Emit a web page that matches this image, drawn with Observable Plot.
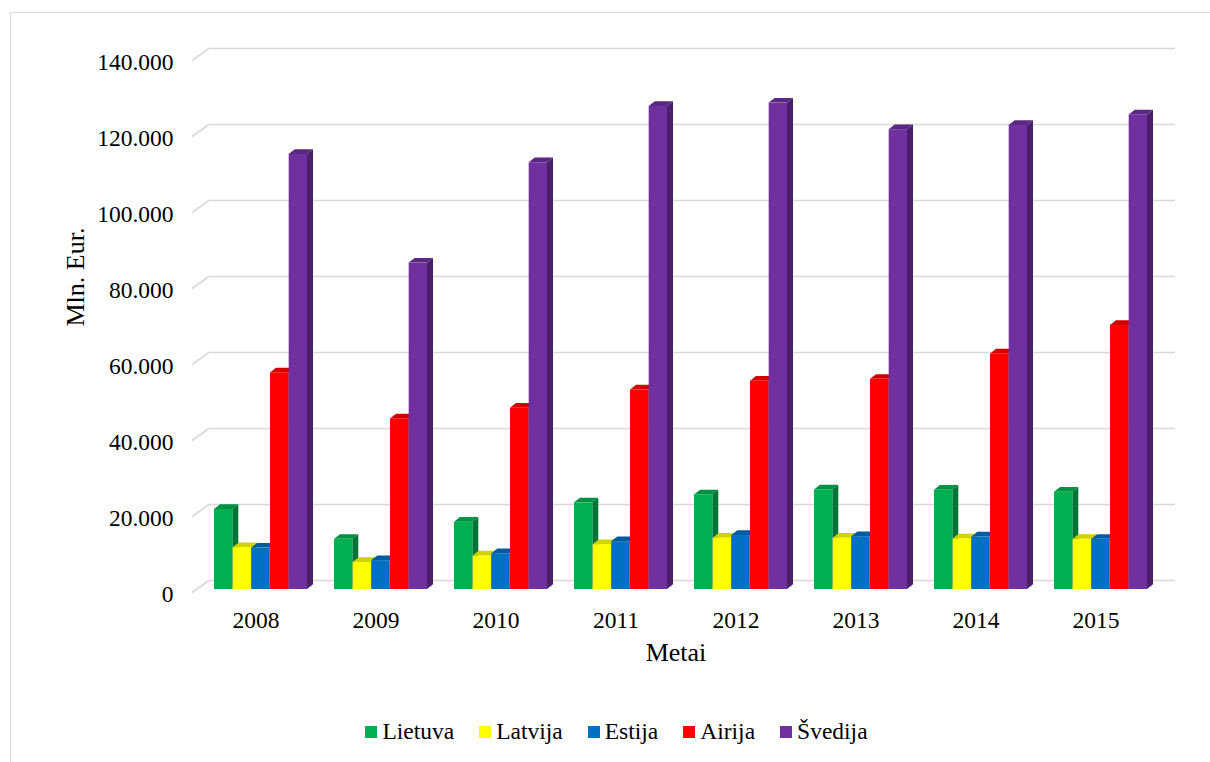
<!DOCTYPE html>
<html>
<head>
<meta charset="utf-8">
<script src="https://cdn.jsdelivr.net/npm/d3@7"></script>
<script src="https://cdn.jsdelivr.net/npm/@observablehq/plot@0.6"></script>
<style>
  body { margin: 0; background: #fff; }
  #wrap { position: relative; width: 1210px; height: 762px; overflow: hidden; font-family: "Liberation Serif", "Times New Roman", serif; }
  #chart { position: absolute; left: 0; top: 0; }
  #frame { position: absolute; left: 10px; top: 12px; width: 1400px; height: 1000px; border-left: 1.5px solid #d9d9d9; border-top: 1.5px solid #d9d9d9; pointer-events: none; }
  #legend { position: absolute; left: 0; top: 718px; width: 1210px; display: flex; justify-content: center; padding-left: 23px; box-sizing: border-box; font-size: 23.5px; color: #000; }
  .item { display: flex; align-items: center; margin: 0 12.5px; }
  .sw { width: 12px; height: 12px; margin-right: 5px; }
</style>
</head>
<body>
<div id="wrap">
  <div id="chart"></div>
  <div id="legend"></div>
  <div id="frame"></div>
</div>
<script>
// ---- data (Mln. Eur.) ----
const years = ["2008", "2009", "2010", "2011", "2012", "2013", "2014", "2015"];
const series = ["Lietuva", "Latvija", "Estija", "Airija", "Švedija"];
const colors = ["#00b050", "#ffff00", "#0070c0", "#ff0000", "#7030a0"];
const lietuva = [21050, 13200, 17700, 22800, 24900, 26200, 26100, 25600];
const latvija = [11000, 7100, 8800, 11800, 13500, 13500, 13300, 13200];
const estija  = [10900, 7600, 9400, 12600, 14200, 13900, 13800, 13200];
const airija  = [57000, 44900, 47700, 52500, 54800, 55300, 62000, 69500];
const svedija = [114500, 85900, 112300, 127100, 128000, 121000, 122100, 124900];
const yTicks = [0, 20000, 40000, 60000, 80000, 100000, 120000, 140000];
const xTitle = "Metai";
const yTitle = "Mln. Eur.";

const valuesBySeries = [lietuva, latvija, estija, airija, svedija];
const data = years.flatMap((yr, i) => series.map((s, k) => ({year: yr, series: s, value: valuesBySeries[k][i]})));

const fmt = d3.formatLocale({decimal: ",", thousands: ".", grouping: [3], currency: ["", ""]}).format(",");

// ---- layout ----
const W = 1210, H = 700;
const mL = 198, mR = 47, mT = 57, mB = 111;
const padIn = 0.226, padOut = 0.113;
const bandW = (W - mL - mR) / years.length * (1 - padIn);
const barW = bandW / series.length;
const depthX = 6, depthY = 4.7;

function extrude(color) {
  const top = d3.color(color).darker(0.55).formatHex();
  const side = d3.color(color).darker(1.15).formatHex();
  return function(index, scales, values, dimensions, context, next) {
    const g = next(index, scales, values, dimensions, context);
    const ns = "http://www.w3.org/2000/svg";
    const doc = context.document;
    const wrap = doc.createElementNS(ns, "g");
    const faces = doc.createElementNS(ns, "g");
    g.querySelectorAll("rect").forEach(r => {
      const x = +r.getAttribute("x"), y = +r.getAttribute("y");
      const w = +r.getAttribute("width"), h = +r.getAttribute("height");
      const x1 = x + w, yb = y + h;
      const pt = doc.createElementNS(ns, "polygon");
      pt.setAttribute("points", `${x},${y} ${x + depthX},${y - depthY} ${x1 + depthX},${y - depthY} ${x1},${y}`);
      pt.setAttribute("fill", top);
      faces.appendChild(pt);
      const ps = doc.createElementNS(ns, "polygon");
      ps.setAttribute("points", `${x1},${y} ${x1 + depthX},${y - depthY} ${x1 + depthX},${yb - depthY} ${x1},${yb}`);
      ps.setAttribute("fill", side);
      faces.appendChild(ps);
    });
    wrap.appendChild(faces);
    wrap.appendChild(g);
    return wrap;
  };
}

function wall(index, scales, values, dimensions) {
  const g = d3.create("svg:g").attr("stroke", "#d9d9d9").attr("stroke-width", 1.6).attr("fill", "none");
  const left = dimensions.marginLeft;
  const right = dimensions.width - dimensions.marginRight;
  for (const t of yTicks) {
    const y = scales.y(t);
    g.append("line").attr("x1", left + 11).attr("x2", right + 12).attr("y1", y - 8.5).attr("y2", y - 8.5);
    g.append("line").attr("x1", left - 6).attr("x2", left + 11).attr("y1", y + 3.5).attr("y2", y - 8.5);
  }
  return g.node();
}

const barMarks = series.map((s, k) => Plot.barY(data.filter(d => d.series === s), {
  x: "year",
  y: "value",
  fill: colors[k],
  insetLeft: k * barW,
  insetRight: (series.length - 1 - k) * barW,
  render: extrude(colors[k])
}));

const chart = Plot.plot({
  width: W,
  height: H,
  marginLeft: mL,
  marginRight: mR,
  marginTop: mT,
  marginBottom: mB,
  style: {background: "transparent", fontFamily: "'Liberation Serif', 'Times New Roman', serif", color: "#000"},
  x: {domain: years, paddingInner: padIn, paddingOuter: padOut, axis: null},
  y: {domain: [0, 140000], axis: null},
  marks: [
    wall,
    ...barMarks,
    Plot.axisY({ticks: yTicks, tickFormat: fmt, tickSize: 0, tickPadding: 25, fontSize: 23.5, dy: 5, label: null}),
    Plot.axisX({tickSize: 0, tickPadding: 22, fontSize: 23.5, dx: -5, label: null}),
    Plot.text([yTitle], {text: d => d, frameAnchor: "left", rotate: -90, dx: -123, dy: 3, fontSize: 26}),
    Plot.text([xTitle], {text: d => d, frameAnchor: "bottom", dx: -5, dy: 71, fontSize: 26})
  ]
});
document.getElementById("chart").appendChild(chart);

const legend = document.getElementById("legend");
series.forEach((s, k) => {
  const item = document.createElement("div");
  item.className = "item";
  const sw = document.createElement("div");
  sw.className = "sw";
  sw.style.background = colors[k];
  const label = document.createElement("span");
  label.textContent = s;
  item.appendChild(sw);
  item.appendChild(label);
  legend.appendChild(item);
});
</script>
</body>
</html>
